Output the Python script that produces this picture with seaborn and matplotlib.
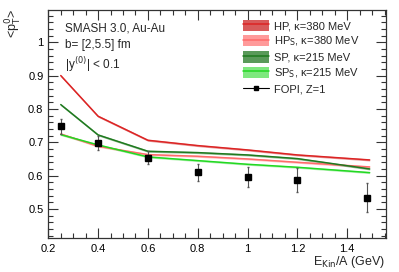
import numpy as np
import pandas as pd
import matplotlib
matplotlib.use("Agg")
import matplotlib.pyplot as plt
import seaborn as sns
from matplotlib.patches import Patch
from matplotlib.lines import Line2D
from matplotlib.ticker import MultipleLocator

# simulation energies (GeV per nucleon)
e_sim = [0.25, 0.4, 0.6, 0.8, 1.0, 1.2, 1.49]
hp = [0.900, 0.778, 0.706, 0.690, 0.677, 0.662, 0.647]
hp_s = [0.725, 0.688, 0.663, 0.658, 0.650, 0.640, 0.626]
sp = [0.813, 0.722, 0.673, 0.669, 0.662, 0.651, 0.620]
sp_s = [0.723, 0.692, 0.656, 0.645, 0.634, 0.625, 0.609]

# FOPI data, Z=1
e_fopi = [0.25, 0.4, 0.6, 0.8, 1.0, 1.2, 1.48]
pt_fopi = [0.748, 0.697, 0.654, 0.610, 0.597, 0.587, 0.534]
err_fopi = [0.023, 0.021, 0.020, 0.025, 0.030, 0.035, 0.044]

labels = ["HP, κ=380 MeV", "HP$_{\\rm S}$, κ=380 MeV",
          "SP, κ=215 MeV", "SP$_{\\rm S}$, κ=215 MeV"]
line_cols = ["#dc2424", "#ff6b6b", "#1f7a1f", "#22d822"]
band_cols = ["#d85a5a", "#ff9a9a", "#5a9a5a", "#7ee87e"]

sns.set_style("ticks")
plt.rcParams['font.family'] = ['Liberation Sans', 'DejaVu Sans']

fig = plt.figure(figsize=(3.99, 2.72), dpi=100)
ax = fig.add_axes([0.121, 0.125, 0.846, 0.840])

series = [hp, hp_s, sp, sp_s]
for vals, lab, lc, bc in zip(series, labels, line_cols, band_cols):
    df = pd.DataFrame({"E": e_sim, "pt": vals})
    ax.fill_between(e_sim, np.array(vals) - 0.003, np.array(vals) + 0.003,
                    color=bc, alpha=0.6, lw=0)
    sns.lineplot(data=df, x="E", y="pt", ax=ax, color=lc, lw=1.1)

ax.errorbar(e_fopi, pt_fopi, yerr=err_fopi, fmt="s", color="black",
            ms=4, ecolor="#555555", elinewidth=0.8, capsize=1)

ax.set_xlim(0.2, 1.555)
ax.set_ylim(0.413, 1.098)
ax.xaxis.set_major_locator(MultipleLocator(0.2))
ax.xaxis.set_minor_locator(MultipleLocator(0.05))
ax.yaxis.set_major_locator(MultipleLocator(0.1))
ax.yaxis.set_minor_locator(MultipleLocator(0.02))
ax.set_xticks([0.2, 0.4, 0.6, 0.8, 1.0, 1.2, 1.4])
ax.set_xticklabels(["0.2", "0.4", "0.6", "0.8", "1", "1.2", "1.4"])
ax.set_yticks([0.5, 0.6, 0.7, 0.8, 0.9, 1.0])
ax.set_yticklabels(["0.5", "0.6", "0.7", "0.8", "0.9", "1"])
ax.tick_params(which="both", direction="in", top=True, right=True,
               labelsize=8, width=0.8, colors="#333333", labelcolor="black")
ax.tick_params(which="major", length=7)
ax.tick_params(which="minor", length=3.5)
ax.tick_params(axis="x", pad=4)
for s in ax.spines.values():
    s.set_linewidth(0.9)
    s.set_color("#333333")

ax.set_xlabel("E$_{\\rm Kin}$/A (GeV)", fontsize=9, loc="right", labelpad=0.5)
ax.set_ylabel("<p$^0_{\\rm T}$>", fontsize=9, loc="top", labelpad=3)

ax.text(0.05, 0.945, "SMASH 3.0, Au-Au", transform=ax.transAxes, fontsize=8.5, va="top")
ax.text(0.05, 0.87, "b= [2,5.5] fm", transform=ax.transAxes, fontsize=8.5, va="top")
ax.text(0.05, 0.80, "|y$^{(0)}$| < 0.1", transform=ax.transAxes, fontsize=8.5, va="top")

handles = []
for lc, bc in zip(line_cols, band_cols):
    handles.append((Patch(facecolor=bc, edgecolor="none"), Line2D([], [], color=lc, lw=1.1)))
handles.append(Line2D([], [], color="black", marker="s", ms=3, lw=0.8))
leg = ax.legend(handles, labels + ["FOPI, Z=1"], loc="upper right",
                bbox_to_anchor=(0.935, 0.975), borderaxespad=0, frameon=False,
                fontsize=8, handlelength=2.4, handleheight=1.2,
                handletextpad=0.4, labelspacing=0.3)

fig.savefig("out.png", dpi=100)
